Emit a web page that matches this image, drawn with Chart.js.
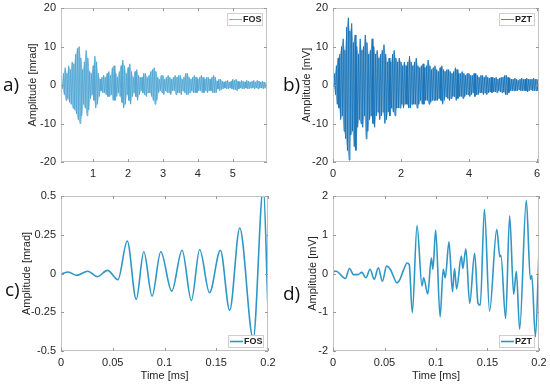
<!DOCTYPE html>
<html>
<head>
<meta charset="utf-8">
<script src="https://cdn.jsdelivr.net/npm/chart.js@4/dist/chart.umd.min.js"></script>
<style>
  body { margin: 0; background: #fff; width: 550px; height: 385px; position: relative; overflow: hidden; }
  canvas { position: absolute; }
  .tag { position: absolute; font-family: "Open Sans", sans-serif; font-size: 19px; line-height: 1; color: #111; }
</style>
</head>
<body>
<canvas id="ca" width="275" height="185" style="left:0;top:0"></canvas>
<canvas id="cc" width="280" height="200" style="left:0;top:185px"></canvas>
<canvas id="cb" width="275" height="185" style="left:275px;top:0"></canvas>
<canvas id="cd" width="275" height="200" style="left:275px;top:185px"></canvas>
<div class="tag" style="left:3px;top:75px">a)</div>
<div class="tag" style="left:283px;top:75px">b)</div>
<div class="tag" style="left:5px;top:280px">c)</div>
<div class="tag" style="left:283px;top:284px">d)</div>
<script>
const FONT = '"Liberation Sans", Arial, sans-serif';

// a) FOS, full record: envelope read every 0.05 ms from 0.10 ms
const fosStart = 0.10, fosStep = 0.05;
const fosUpper = [
  1, 3, 4.5, 3, 5, 4, 6, 5.5, 8, 9.5,
  10, 7, 4, 6, 9, 7, 3.5, 3, 5, 7.5,
  6, 3, 1.5, 2, 2.5, 2, 3, 3.5, 2.5, 4.5,
  5, 3, 2, 3.5, 5, 6.5, 5, 3, 4.5, 5.5,
  3.5, 2, 3.5, 4, 2.5, 2, 2, 3, 3, 2,
  2.5, 3.5, 4, 4.5, 3.5, 2, 1.5, 2.5, 2.5, 1.5,
  2, 2.5, 2, 1.5, 2, 2.5, 2, 2.5, 2.5, 1.5,
  2, 3, 3, 2, 1.5, 2, 2.5, 2, 1.5, 2,
  2.5, 2, 1.5, 2, 2, 1.5, 2, 2.5, 2, 1,
  1.5, 1.5, 1, 0.8, 1, 1.2, 0.8, 1, 1.5, 1.2,
  1.5, 1, 0.8, 1.2, 1, 0.8, 1.2, 1, 0.8, 1,
  1.2, 0.8, 1.2, 1, 0.8, 1, 0.8, 0.6
];
const fosLower = [
  -1, -2.5, -4, -3.5, -4.5, -5, -6, -6.5, -7.5, -9,
  -10, -8, -5, -6, -8, -6.5, -3.5, -2.5, -4, -6,
  -5, -3, -1.5, -2, -2, -2.5, -3, -3, -2.5, -4,
  -4, -3, -2, -3, -4.5, -6, -5, -2.5, -4, -5,
  -3, -2, -3, -4, -2.5, -1.5, -2, -2.5, -3, -2,
  -2, -3, -4, -5, -4, -2, -1.5, -2, -2.5, -1.5,
  -2, -2, -2.5, -1.5, -1.5, -2.5, -2, -2, -2.5, -1.5,
  -2, -2.5, -2.5, -2, -1.5, -2, -2, -2, -1.5, -1.5,
  -2, -2, -1.5, -2, -1.5, -1.5, -2, -2, -2, -1,
  -1.5, -1.2, -1, -0.8, -1, -1, -0.8, -1, -1.2, -1.2,
  -1.5, -1, -0.8, -1, -1, -0.8, -1, -1, -0.8, -0.8,
  -1, -0.8, -1, -0.8, -0.8, -1, -0.8, -0.6
];

// b) PZT, full record: envelope read every 0.05 ms from 0 ms
const pztStart = 0, pztStep = 0.05;
const pztUpper = [
  0.5, 3, 5, 7, 8, 10, 12, 9, 15, 17.5,
  14, 16, 11, 13, 10, 8, 12, 9, 10, 13,
  11, 8, 9, 12, 10, 8, 9, 7, 8, 9,
  10.5, 8, 6, 7, 6, 8, 9, 7, 6, 7,
  6, 5, 6, 5, 6, 7.5, 6, 5, 6, 7,
  5, 4.5, 5, 5.5, 4.5, 5, 6.5, 5, 4, 4.5,
  5, 4, 3.5, 4.5, 5, 4, 3.5, 4, 4, 3.5,
  3, 3.5, 4.5, 4, 3, 3, 3.5, 3, 2.5, 3,
  3, 2.5, 2.5, 3, 3, 2.5, 2, 2.5, 2.5, 2,
  2.5, 2, 1.8, 2, 2, 1.8, 2, 1.5, 1.8, 2,
  2, 2.5, 2.5, 2, 1.8, 1.5, 1.5, 1.8, 1.5, 1.2,
  1.5, 1.8, 1.5, 1.5, 1.8, 1.5, 1.5, 1.5, 1.8, 1.5,
  1.5, 1.2
];
const pztLower = [
  -0.5, -2.5, -5, -6, -9, -8, -12, -14, -17, -19.5,
  -13, -12, -16, -17, -11, -9, -10, -11, -8, -14,
  -12, -9, -8, -10, -11, -8, -7, -9, -8, -7,
  -10, -9, -7, -8, -6, -7, -8, -6, -6, -6,
  -5, -6, -5, -5, -6, -6, -5, -5, -5, -6,
  -5, -4, -5, -5, -4, -4, -5, -4.5, -4, -4,
  -4, -4, -3.5, -4, -5, -4, -3, -3.5, -4, -3.5,
  -3, -3, -4, -3.5, -3, -3, -3.5, -3, -2.5, -2.5,
  -3, -2.5, -2, -3, -2.5, -2.5, -2, -2, -2.5, -2,
  -2.5, -2, -1.8, -2, -1.8, -1.8, -2, -1.5, -1.8, -2,
  -1.8, -2.5, -2.5, -2, -1.5, -1.5, -1.5, -1.5, -1.5, -1.2,
  -1.5, -1.5, -1.5, -1.5, -1.8, -1.5, -1.2, -1.5, -1.5, -1.5,
  -1.5, -1.2
];

// c) FOS, first 0.2 ms: peaks and troughs
const fosZoomTime = [0, 0.007, 0.015, 0.026, 0.035, 0.045, 0.055, 0.064, 0.0727, 0.080, 0.088, 0.0964,
  0.107, 0.117, 0.126, 0.134, 0.1435, 0.154, 0.163, 0.1727, 0.1857, 0.1955, 0.2];
const fosZoomAmp = [-0.005, 0.01, -0.012, 0.015, -0.02, 0.02, -0.04, 0.21, -0.167, 0.14, -0.146, 0.14,
  -0.114, 0.15, -0.174, 0.155, -0.124, 0.15, -0.238, 0.294, -0.42, 0.56, -0.24];

// d) PZT, first 0.2 ms
const pztZoomTime = [0, 0.0013, 0.003, 0.012, 0.016, 0.02, 0.024, 0.028, 0.032, 0.036, 0.040, 0.044,
  0.048, 0.052, 0.056, 0.058, 0.062, 0.065, 0.0686, 0.072, 0.074, 0.077, 0.0816, 0.0864, 0.088, 0.092,
  0.0955, 0.097, 0.0997, 0.104, 0.107, 0.109, 0.1126, 0.116, 0.118, 0.12, 0.1246, 0.126, 0.129, 0.1327,
  0.1375, 0.1408, 0.143, 0.147, 0.152, 0.159, 0.162, 0.163, 0.1676, 0.1715, 0.1754, 0.178, 0.1812,
  0.1877, 0.1916, 0.193, 0.1965, 0.2];
const pztZoomAmp = [0, 0.06, 0.06, -0.13, 0.13, -0.03, -0.03, 0.03, -0.11, 0.11, -0.15, 0.15,
  -0.2, 0.19, 0.09, -0.03, -0.24, -0.15, 0.1, 0.27, 0.23, -1.01, 1.24, -0.32, -0.11, -0.53,
  0.4, 0.11, 1.12, -1.12, 0.11, -0.11, 0.82, -0.47, 0.13, -0.4, 0.45, 0.13, 0.64, -0.77,
  0.52, -0.77, -0.82, 1.66, -0.97, 1.14, 0.43, 0.47, -1.16, 1.49, -0.54, 0.06, -1.44,
  1.89, -0.15, -0.05, -1.63, 0.6];

const aXTicks = [1, 2, 3, 4, 5], aYTicks = [-20, -10, 0, 10, 20];
const bXTicks = [0, 2, 4, 6], bYTicks = [-20, -10, 0, 10, 20];
const cXTicks = [0, 0.05, 0.1, 0.15, 0.2], cYTicks = [-0.5, -0.25, 0, 0.25, 0.5];
const dXTicks = [0, 0.05, 0.1, 0.15, 0.2], dYTicks = [-2, -1, 0, 1, 2];

// dense record -> zigzag between upper and lower envelope
function zigzag(start, step, upper, lower) {
  const pts = [];
  upper.forEach((u, i) => {
    const t = start + i * step;
    pts.push({ x: t, y: u });
    pts.push({ x: t + step / 2, y: lower[i] });
  });
  return pts;
}
function envelope(start, step, vals) {
  return vals.map((v, i) => ({ x: start + i * step, y: v }));
}

const frame = {
  id: 'frame',
  afterDatasetsDraw(chart, args, opts) {
    const { ctx, chartArea: a } = chart;
    ctx.save();
    ctx.strokeStyle = '#c2c2c2';
    ctx.lineWidth = 1;
    ctx.strokeRect(a.left + 0.5, a.top + 0.5, a.right - a.left - 1, a.bottom - a.top - 1);
    // small inward ticks
    ctx.strokeStyle = '#9a9a9a';
    ctx.beginPath();
    chart.scales.x.ticks.forEach(t => {
      const px = Math.round(chart.scales.x.getPixelForValue(t.value)) + 0.5;
      ctx.moveTo(px, a.bottom); ctx.lineTo(px, a.bottom - 3);
      ctx.moveTo(px, a.top); ctx.lineTo(px, a.top + 3);
    });
    chart.scales.y.ticks.forEach(t => {
      const py = Math.round(chart.scales.y.getPixelForValue(t.value)) + 0.5;
      ctx.moveTo(a.left, py); ctx.lineTo(a.left + 3, py);
      ctx.moveTo(a.right, py); ctx.lineTo(a.right - 3, py);
    });
    ctx.stroke();
    // legend box inside the plot
    const ds = chart.data.datasets[0];
    const w = 36, h = 13;
    const x = a.right - 4 - w;
    const y = opts.legendTop ? a.top + 5 : a.bottom - 3 - h;
    ctx.fillStyle = '#fff';
    ctx.fillRect(x, y, w, h);
    ctx.strokeStyle = '#cfcfcf';
    ctx.strokeRect(x + 0.5, y + 0.5, w - 1, h - 1);
    ctx.strokeStyle = ds.borderColor;
    ctx.lineWidth = opts.legendLine;
    ctx.beginPath();
    ctx.moveTo(x + 2, y + h / 2); ctx.lineTo(x + 15, y + h / 2);
    ctx.stroke();
    ctx.fillStyle = '#222';
    ctx.font = 'bold 9px ' + FONT;
    ctx.textBaseline = 'middle';
    ctx.fillText(ds.label, x + 16, y + h / 2 + 0.5);
    ctx.restore();
  }
};

function makeAxes(p) {
  const tickFont = { size: 11, family: FONT };
  return {
    x: {
      type: 'linear', min: p.xMin, max: p.xMax,
      grid: { display: false, drawTicks: false }, border: { display: false },
      ticks: { color: '#262626', font: tickFont, padding: 5, maxRotation: 0, autoSkip: false, callback: v => String(v) },
      afterBuildTicks: s => { s.ticks = p.xTicks.map(v => ({ value: v })); },
      afterFit: s => { s.height = p.xHeight; s.paddingLeft = 0; s.paddingRight = 0; },
      title: p.xTitle ? { display: true, text: p.xTitle, color: '#262626', font: tickFont, padding: { top: 0, bottom: 2 } } : { display: false }
    },
    y: {
      type: 'linear', min: p.yMin, max: p.yMax,
      grid: { display: false, drawTicks: false }, border: { display: false },
      ticks: { color: '#262626', font: tickFont, padding: 5, autoSkip: false, callback: v => String(v) },
      afterBuildTicks: s => { s.ticks = p.yTicks.map(v => ({ value: v })); },
      afterFit: s => { s.width = p.yWidth; s.paddingTop = 0; s.paddingBottom = 0; },
      title: { display: true, text: p.yTitle, color: '#262626', font: tickFont, padding: { top: 0, bottom: 0 } }
    }
  };
}

function panel(id, datasets, p) {
  new Chart(document.getElementById(id), {
    type: 'line',
    data: { datasets: datasets },
    options: {
      responsive: false, animation: false, devicePixelRatio: 1,
      layout: { padding: p.pad },
      plugins: { legend: { display: false }, tooltip: { enabled: false }, frame: { legendTop: p.legendTop, legendLine: p.legendLine } },
      elements: { point: { radius: 0 } },
      scales: makeAxes(p)
    },
    plugins: [frame]
  });
}

panel('ca', [
  { label: 'FOS', data: zigzag(fosStart, fosStep, fosUpper, fosLower),
    borderColor: '#4ea4d3', borderWidth: 0.8, tension: 0, order: 0 },
  { data: envelope(fosStart, fosStep, fosUpper), borderWidth: 0, fill: '+1',
    backgroundColor: 'rgba(78,164,211,0.45)', tension: 0, order: 1 },
  { data: envelope(fosStart + fosStep / 2, fosStep, fosLower), borderWidth: 0, fill: false, tension: 0, order: 2 }
], { xMin: 0.08, xMax: 5.98, xTicks: aXTicks, yMin: -20, yMax: 20, yTicks: aYTicks,
     yTitle: 'Amplitude [mrad]', yWidth: 35, xHeight: 23,
     pad: { left: 26, top: 8, right: 8, bottom: 0 }, legendTop: true, legendLine: 0.8 });

panel('cb', [
  { label: 'PZT', data: zigzag(pztStart, pztStep, pztUpper, pztLower),
    borderColor: '#1170b6', borderWidth: 0.8, tension: 0, order: 0 },
  { data: envelope(pztStart, pztStep, pztUpper), borderWidth: 0, fill: '+1',
    backgroundColor: 'rgba(17,112,182,0.4)', tension: 0, order: 1 },
  { data: envelope(pztStart + pztStep / 2, pztStep, pztLower), borderWidth: 0, fill: false, tension: 0, order: 2 }
], { xMin: 0, xMax: 6.06, xTicks: bXTicks, yMin: -20, yMax: 20, yTicks: bYTicks,
     yTitle: 'Amplitude [mV]', yWidth: 33, xHeight: 23,
     pad: { left: 25, top: 8, right: 11, bottom: 0 }, legendTop: true, legendLine: 0.8 });

panel('cc', [{
  label: 'FOS', data: fosZoomTime.map((t, i) => ({ x: t, y: fosZoomAmp[i] })),
  borderColor: '#2f97c5', borderWidth: 1.6, cubicInterpolationMode: 'monotone'
}], { xMin: 0, xMax: 0.2, xTicks: cXTicks, yMin: -0.5, yMax: 0.5, yTicks: cYTicks,
     yTitle: 'Amplitude [mrad]', xTitle: 'Time [ms]', yWidth: 41, xHeight: 34,
     pad: { left: 20, top: 11, right: 12, bottom: 0 }, legendTop: false, legendLine: 1.6 });

panel('cd', [{
  label: 'PZT', data: pztZoomTime.map((t, i) => ({ x: t, y: pztZoomAmp[i] })),
  borderColor: '#2f97c5', borderWidth: 1.6, cubicInterpolationMode: 'monotone'
}], { xMin: 0, xMax: 0.2, xTicks: dXTicks, yMin: -2, yMax: 2, yTicks: dYTicks,
     yTitle: 'Amplitude [mV]', xTitle: 'Time [ms]', yWidth: 27, xHeight: 34,
     pad: { left: 31, top: 11, right: 11, bottom: 0 }, legendTop: false, legendLine: 1.6 });
</script>
</body>
</html>
